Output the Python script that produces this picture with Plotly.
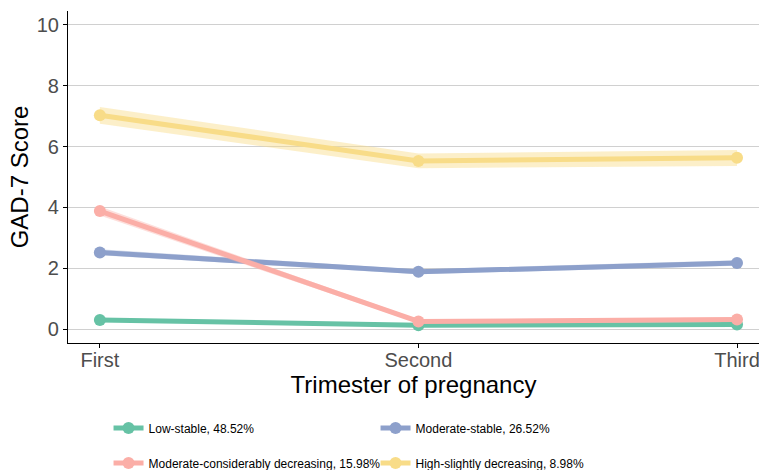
import plotly.graph_objects as go

trimesters = ["First", "Second", "Third"]
x_pos = [1, 2, 3]

groups = [
    "Low-stable, 48.52%",
    "Moderate-stable, 26.52%",
    "Moderate-considerably decreasing, 15.98%",
    "High-slightly decreasing, 8.98%",
]
legend_rows = ["legend", "legend", "legend2", "legend2"]
colors = ["#66c2a5", "#8da0cb", "#fbaea7", "#f8dc88"]
ribbon_colors = [
    "rgba(102,194,165,0.35)",
    "rgba(141,160,203,0.35)",
    "rgba(251,174,167,0.4)",
    "rgba(248,220,136,0.45)",
]

# mean GAD-7 score per trimester for each trajectory group
low_stable = [0.30, 0.12, 0.15]
moderate_stable = [2.52, 1.88, 2.17]
moderate_decreasing = [3.88, 0.25, 0.31]
high_decreasing = [7.03, 5.53, 5.63]

# confidence band bounds
low_stable_lo = [0.25, 0.08, 0.10]
low_stable_hi = [0.35, 0.16, 0.20]
moderate_stable_lo = [2.43, 1.80, 2.08]
moderate_stable_hi = [2.62, 1.96, 2.26]
moderate_decreasing_lo = [3.73, 0.19, 0.24]
moderate_decreasing_hi = [4.03, 0.31, 0.38]
high_decreasing_lo = [6.75, 5.29, 5.36]
high_decreasing_hi = [7.30, 5.77, 5.89]

means = [low_stable, moderate_stable, moderate_decreasing, high_decreasing]
lows = [low_stable_lo, moderate_stable_lo, moderate_decreasing_lo, high_decreasing_lo]
highs = [low_stable_hi, moderate_stable_hi, moderate_decreasing_hi, high_decreasing_hi]

fig = go.Figure()
for name, leg, col, rcol, m, lo, hi in zip(groups, legend_rows, colors, ribbon_colors,
                                           means, lows, highs):
    fig.add_trace(go.Scatter(x=x_pos, y=lo, mode="lines", line=dict(width=0),
                             showlegend=False, hoverinfo="skip"))
    fig.add_trace(go.Scatter(x=x_pos, y=hi, mode="lines", line=dict(width=0),
                             fill="tonexty", fillcolor=rcol,
                             showlegend=False, hoverinfo="skip"))
    fig.add_trace(go.Scatter(x=x_pos, y=m, mode="lines+markers", name=name,
                             legend=leg,
                             line=dict(color=col, width=5),
                             marker=dict(color=col, size=12)))

legend_style = dict(orientation="h", xref="container", yref="container",
                    x=0.143, xanchor="left", yanchor="middle",
                    entrywidth=222, entrywidthmode="pixels", traceorder="normal",
                    font=dict(size=12, color="black"), itemwidth=30,
                    bgcolor="rgba(0,0,0,0)")

fig.update_layout(
    width=759, height=470,
    margin=dict(l=68, r=0, t=11, b=127, autoexpand=False),
    paper_bgcolor="white", plot_bgcolor="white",
    font=dict(family="Liberation Sans, Arial, sans-serif", color="black"),
    legend=dict(legend_style, y=1 - 428 / 470),
    legend2=dict(legend_style, y=1 - 463 / 470),
    xaxis=dict(
        range=[0.9, 3.069], tickvals=x_pos, ticktext=trimesters,
        showgrid=False, zeroline=False,
        showline=True, linecolor="black", linewidth=1.2,
        ticks="outside", ticklen=4, tickcolor="black",
        ticklabeloverflow="allow", ticklabelstandoff=-5,
        tickfont=dict(size=20, color="#4d4d4d"),
        title=dict(text="Trimester of pregnancy", font=dict(size=24, color="black"), standoff=1),
    ),
    yaxis=dict(
        range=[-0.46, 10.46], tickvals=[0, 2, 4, 6, 8, 10],
        showgrid=True, gridcolor="#d0d0d0", gridwidth=1.2, zeroline=False,
        showline=True, linecolor="black", linewidth=1.2,
        ticks="outside", ticklen=4, tickcolor="black",
        tickfont=dict(size=20, color="#4d4d4d"),
        title=dict(text="GAD-7 Score", font=dict(size=24, color="black"), standoff=1),
    ),
)

fig.write_html("out.html")
